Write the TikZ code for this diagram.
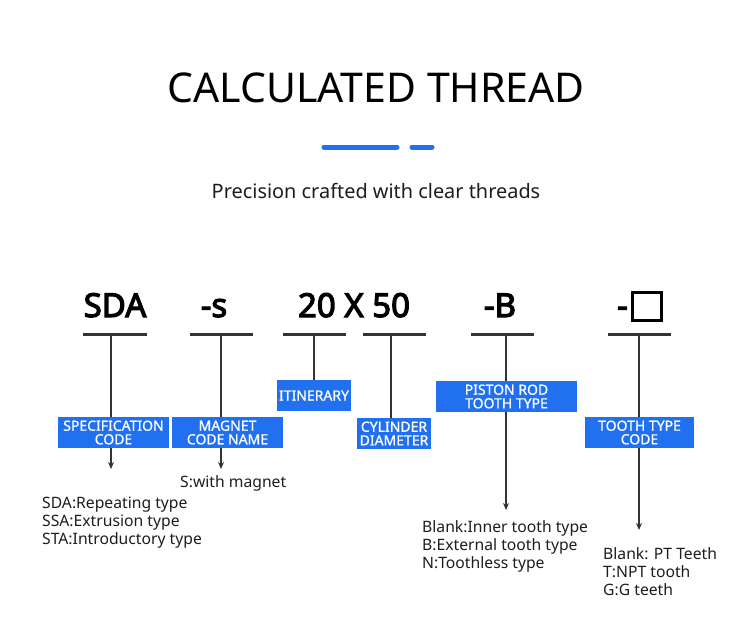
\documentclass[tikz,border=0pt]{standalone}
\usepackage{fontspec}
\setmainfont{Noto Sans}
\newfontfamily\codefont{Noto Sans}[FakeBold=3.5]
\newfontfamily\tagfont{Noto Sans}[FakeBold=0.8]
\usetikzlibrary{arrows.meta}
\definecolor{blu}{RGB}{33,112,240}
\definecolor{ink}{RGB}{30,30,30}
\definecolor{ln}{RGB}{51,51,51}
\begin{document}
\begin{tikzpicture}[x=1pt,y=-1pt,
  code/.style={font=\codefont\fontsize{33}{36}\selectfont, text=black, inner sep=0, anchor=base},
  uline/.style={draw=ln, line width=3pt},
  vline/.style={draw=ln, line width=1.5pt},
  arr/.style={vline,-{Stealth[length=7pt,width=6pt]}},
  tag/.style={fill=blu, text=white, font=\tagfont\fontsize{14}{13.6}\selectfont, align=center, inner sep=0, minimum height=31pt},
  desc/.style={anchor=base west, font=\fontsize{15.7}{17.6}\selectfont, text=ink, align=left, inner sep=0},
  bar/.style={draw=blu, line width=5pt, line cap=round}
]
\useasboundingbox[fill=white] (0,0) rectangle (750,637);
% title
\node[anchor=base, inner sep=0, font=\fontsize{41}{44}\selectfont, text=black] (title) at (376,102) {CALCULATED THREAD};
\coordinate (b1a) at (324,147); \coordinate (b1b) at (397,147);
\coordinate (b2a) at (412,147); \coordinate (b2b) at (432,147);
\draw[bar] (b1a) -- (b1b);
\draw[bar] (b2a) -- (b2b);
\node[anchor=base, inner sep=0, font=\fontsize{19.9}{21}\selectfont, text=ink] (sub) at (376,198) {Precision crafted with clear threads};
% codes
\node[code] (c1) at (115,317) {SDA};
\node[code] (c2) at (214,317) {-s};
\node[code] (c3) at (354,317) {20 X 50};
\node[code] (c4) at (500,317) {-B};
\node[code, anchor=base east] (c5) at (628,317) {-};
\node[draw=black, line width=3pt, minimum width=29pt, minimum height=28pt, inner sep=0] (sq) at (647,306.5) {};
% underlines
\coordinate (u1a) at (83,334); \coordinate (u1b) at (147,334);
\coordinate (u2a) at (190,334); \coordinate (u2b) at (253,334);
\coordinate (u3a) at (283,334); \coordinate (u3b) at (346,334);
\coordinate (u4a) at (363,334); \coordinate (u4b) at (426,334);
\coordinate (u5a) at (471,334); \coordinate (u5b) at (534,334);
\coordinate (u6a) at (608,334); \coordinate (u6b) at (671,334);
\foreach \i in {1,...,6} {\draw[uline] (u\i a) -- (u\i b);}
% tags
\node[tag, minimum width=111pt] (t1) at (113.5,432.5) {SPECIFICATION\\CODE};
\node[tag, minimum width=111pt] (t2) at (227.5,432.5) {MAGNET\\CODE NAME};
\node[tag, minimum width=74pt] (t3) at (314,395.5) {ITINERARY};
\node[tag, minimum width=74pt] (t4) at (394,433.5) {CYLINDER\\DIAMETER};
\node[tag, minimum width=141pt] (t5) at (506.5,396.5) {PISTON ROD\\TOOTH TYPE};
\node[tag, minimum width=109pt] (t6) at (639.5,432.5) {TOOTH TYPE\\CODE};
% stems
\coordinate (s1) at (111,334); \coordinate (s2) at (221,334);
\coordinate (s3) at (314,334); \coordinate (s4) at (391,334);
\coordinate (s5) at (506,334); \coordinate (s6) at (639,334);
\draw[vline] (s1) -- (s1 |- t1.north);
\draw[vline] (s2) -- (s2 |- t2.north);
\draw[vline] (s3) -- (s3 |- t3.north);
\draw[vline] (s4) -- (s4 |- t4.north);
\draw[vline] (s5) -- (s5 |- t5.north);
\draw[vline] (s6) -- (s6 |- t6.north);
% arrows
\coordinate (a1) at (111,469); \coordinate (a2) at (221,469);
\coordinate (a5) at (506,510); \coordinate (a6) at (639,530);
\draw[arr] (s1 |- t1.south) -- (a1);
\draw[arr] (s2 |- t2.south) -- (a2);
\draw[arr] (s5 |- t5.south) -- (a5);
\draw[arr] (s6 |- t6.south) -- (a6);
% descriptions (anchor = baseline of the last line)
\node[desc] (d2) at (180,487) {S:with magnet};
\node[desc] (d1) at (42,544) {SDA:Repeating type\\SSA:Extrusion type\\STA:Introductory type};
\node[desc] (d5) at (422,568) {Blank:Inner tooth type\\B:External tooth type\\N:Toothless type};
\node[desc] (d6) at (603,595) {Blank: PT Teeth\\T:NPT tooth\\G:G teeth};
\end{tikzpicture}
\end{document}
